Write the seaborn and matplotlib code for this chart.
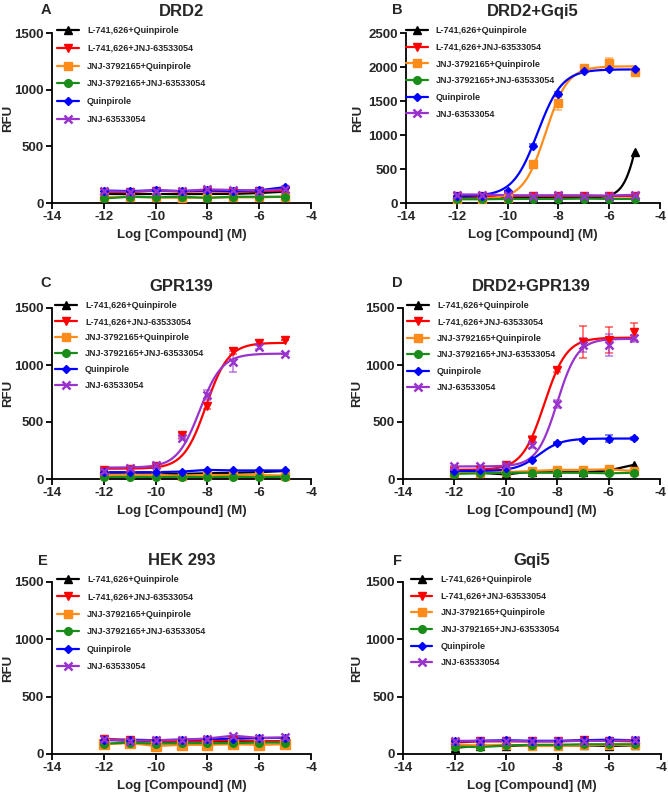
import numpy as np
import pandas as pd
import seaborn as sns
import matplotlib.pyplot as plt
from matplotlib.lines import Line2D

# x values shared by every panel
log_conc = [-12, -11, -10, -9, -8, -7, -6, -5]

series_names = ['L-741,626+Quinpirole', 'L-741,626+JNJ-63533054', 'JNJ-3792165+Quinpirole',
                'JNJ-3792165+JNJ-63533054', 'Quinpirole', 'JNJ-63533054']
colors = ['#000000', '#ff0000', '#ff8c1a', '#1a8c1a', '#0000ff', '#9933cc']
markers = ['^', 'v', 's', 'o', 'D', 'x']

# RFU per series (same order as series_names)
drd2 = [[80, 78, 80, 78, 80, 80, 88, 100],
        [100, 95, 110, 100, 105, 100, 105, 110],
        [50, 55, 50, 45, 50, 50, 50, 55],
        [40, 55, 50, 55, 45, 55, 55, 55],
        [110, 105, 112, 105, 112, 105, 112, 140],
        [105, 100, 110, 105, 120, 115, 110, 120]]
drd2_gqi5 = [[75, 70, 75, 80, 60, 80, 110, 750],
             [110, 105, 100, 110, 100, 110, 100, 100],
             [65, 60, 80, 575, 1465, 1985, 2055, 1930],
             [55, 55, 60, 60, 60, 65, 60, 60],
             [110, 110, 170, 845, 1605, 1940, 1965, 1965],
             [125, 125, 115, 110, 115, 110, 110, 120]]
gpr139 = [[40, 45, 40, 45, 50, 55, 60, 70],
          [82, 90, 110, 382, 641, 1122, 1195, 1219],
          [35, 40, 35, 30, 35, 35, 35, 30],
          [15, 20, 15, 20, 15, 20, 15, 20],
          [60, 60, 60, 65, 80, 75, 75, 75],
          [67, 95, 125, 364, 737, 1029, 1160, 1096]]
drd2_gpr139 = [[60, 55, 40, 65, 60, 60, 75, 125],
               [67, 80, 125, 344, 956, 1198, 1219, 1292],
               [55, 55, 60, 70, 80, 80, 85, 70],
               [45, 50, 55, 55, 55, 55, 50, 55],
               [67, 75, 96, 166, 312, 344, 353, 356],
               [110, 110, 125, 300, 656, 1175, 1175, 1233]]
hek293 = [[125, 115, 110, 105, 110, 110, 110, 110],
          [135, 120, 115, 110, 115, 120, 115, 110],
          [85, 95, 70, 80, 80, 85, 80, 85],
          [90, 100, 90, 95, 95, 95, 100, 100],
          [120, 125, 120, 125, 130, 135, 140, 140],
          [130, 115, 120, 125, 135, 160, 140, 145]]
gqi5 = [[55, 70, 70, 75, 75, 75, 70, 75],
        [100, 110, 110, 110, 110, 120, 115, 110],
        [80, 75, 80, 70, 70, 75, 80, 75],
        [65, 60, 75, 80, 80, 85, 85, 85],
        [110, 115, 120, 115, 115, 120, 125, 120],
        [115, 115, 115, 110, 110, 115, 115, 120]]

# SEM where visible {series index: errors}
err_gqi5 = {2: [0, 0, 0, 30, 100, 20, 80, 20], 4: [0, 0, 0, 20, 30, 15, 0, 0]}
err_gpr139 = {1: [0, 0, 0, 20, 25, 25, 20, 0], 5: [0, 0, 0, 15, 40, 90, 20, 0]}
err_drd2_gpr139 = {1: [0, 0, 15, 35, 20, 140, 115, 75],
                   5: [0, 0, 0, 30, 35, 60, 100, 30],
                   4: [0, 0, 0, 10, 10, 10, 30, 10]}

# 4-parameter fits: (bottom, top, logEC50, hill)
fit_gqi5 = {0: (80, 2000, -4.82, 1.5), 2: (60, 2010, -8.5, 1.0), 4: (100, 1965, -8.82, 0.9)}
fit_gpr139 = {1: (90, 1195, -8.05, 1.0), 5: (100, 1100, -8.3, 1.0)}
fit_drd2_gpr139 = {1: (80, 1240, -8.5, 1.0), 4: (70, 355, -8.72, 1.0), 5: (110, 1230, -8.0, 1.1)}

sns.set_style('ticks')
plt.rcParams['font.family'] = ['Liberation Sans', 'DejaVu Sans']
plt.rcParams['font.weight'] = 'bold'
plt.rcParams['axes.unicode_minus'] = False

fig = plt.figure(figsize=(6.68, 7.96), dpi=100)


def pos(l, r, t, b):
    return [l / 668, 1 - b / 796, (r - l) / 668, (b - t) / 796]


panels = [
    ('A', 'DRD2', drd2, {}, {}, pos(52, 311, 33, 203), 1500, (46, 10), 0.02, 8, 0.97),
    ('B', 'DRD2+Gqi5', drd2_gqi5, err_gqi5, fit_gqi5, pos(406, 660, 33, 203), 2500, (397, 10), 0.0, 358, 0.85),
    ('C', 'GPR139', gpr139, err_gpr139, fit_gpr139, pos(52, 311, 308, 479), 1500, (46, 283), 0.012, 8, 0.78),
    ('D', 'DRD2+GPR139', drd2_gpr139, err_drd2_gpr139, fit_drd2_gpr139, pos(403, 660, 308, 479), 1500, (397, 283), 0.016, 357, 0.82),
    ('E', 'HEK 293', hek293, {}, {}, pos(52, 311, 582, 754), 1500, (43, 561), 0.02, 8, 0.93),
    ('F', 'Gqi5', gqi5, {}, {}, pos(403, 661, 582, 754), 1500, (397, 561), 0.03, 357, 0.85),
]

xs = np.linspace(-12, -5, 300)

for letter, title, data, errs, fits, rect, ymax, lpos, legx, ylab_x, lspace in panels:
    ax = fig.add_axes(rect)
    for i, vals in enumerate(data):
        c = colors[i]
        if i in fits:
            bot, top, ec50, hill = fits[i]
            curve = bot + (top - bot) / (1 + 10 ** ((ec50 - xs) * hill))
            sns.lineplot(x=xs, y=curve, ax=ax, color=c, lw=1.6, legend=False, zorder=2)
        else:
            sns.lineplot(x=log_conc, y=vals, ax=ax, color=c, lw=1.6, legend=False, zorder=2)
        if i in errs:
            ax.errorbar(log_conc, vals, yerr=errs[i], fmt='none', ecolor=c, alpha=0.6,
                        elinewidth=1.2, capsize=3, capthick=1.2, zorder=2)
        ms = 5.5 if markers[i] != 'D' else 4
        if title == 'HEK 293' and i == 2:
            ms = 7.5
        ax.plot(log_conc, vals, linestyle='none', marker=markers[i], color=c, ms=ms,
                mew=1.8 if markers[i] == 'x' else 1, clip_on=False, zorder=3)

    ax.set_xlim(-14, -4)
    ax.set_ylim(0, ymax)
    ax.set_xticks(range(-14, -3, 2))
    ax.set_yticks(range(0, ymax + 1, 500))
    sns.despine(ax=ax)
    for s in ['left', 'bottom']:
        ax.spines[s].set_linewidth(1.3)
        ax.spines[s].set_color('black')
    ax.tick_params(length=4, width=1.3, labelsize=9.5, pad=2, color='black')
    for t in ax.get_xticklabels() + ax.get_yticklabels():
        t.set_fontweight('bold')
    ax.set_xlabel('Log [Compound] (M)', fontsize=9.5, fontweight='bold', labelpad=4)
    ax.set_title(title, fontsize=12, fontweight='bold', pad=12)
    fig.text(ylab_x / 668, rect[1] + rect[3] / 2, 'RFU', fontsize=9.5, fontweight='bold',
             rotation=90, ha='center', va='center')
    fig.text(lpos[0] / 668, 1 - lpos[1] / 796, letter, fontsize=10.5, fontweight='bold',
             ha='center', va='center')

    handles = [Line2D([0], [0], color=colors[i], marker=markers[i], lw=1.6,
                      ms=5.5 if markers[i] != 'D' else 4,
                      mew=1.8 if markers[i] == 'x' else 1) for i in range(6)]
    ax.legend(handles, series_names, loc='upper left', bbox_to_anchor=(legx, 1.04),
              frameon=False, prop={'size': 6.5, 'weight': 'bold'}, handlelength=2.4,
              handletextpad=0.9, labelspacing=lspace, borderaxespad=0, borderpad=0)

fig.savefig('out.png', dpi=100)
